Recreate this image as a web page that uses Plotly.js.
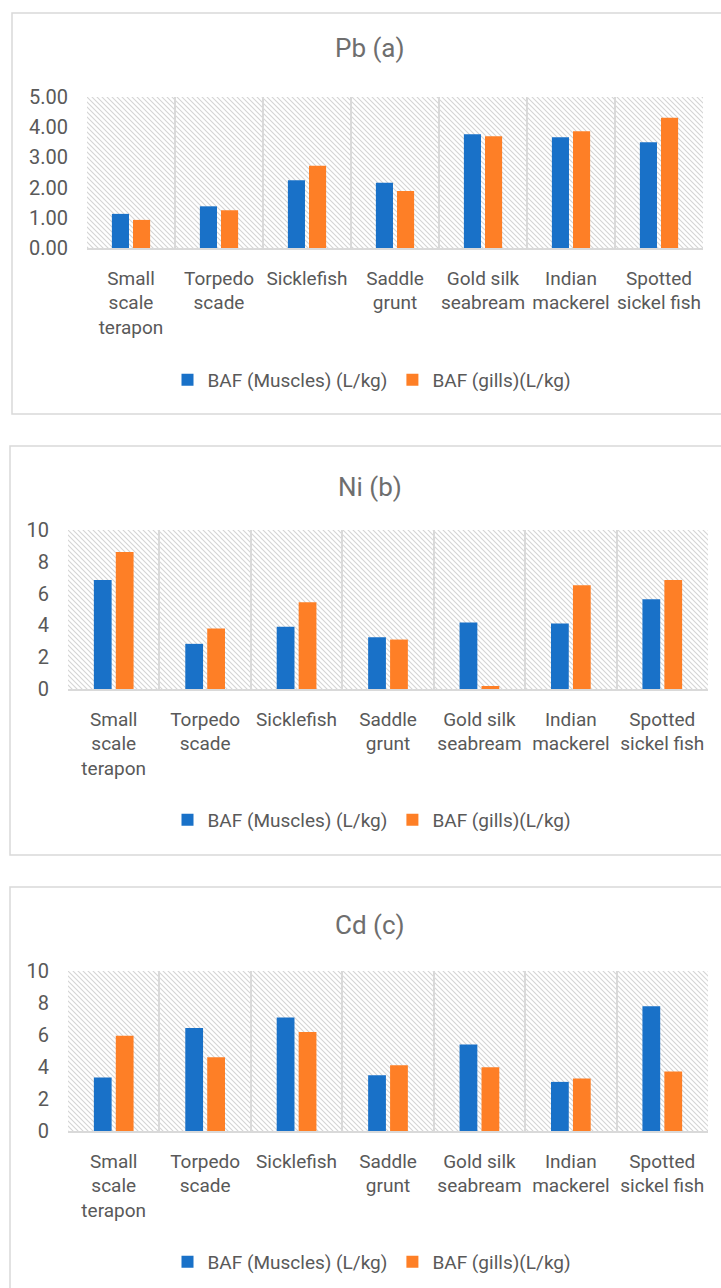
<!DOCTYPE html>
<html>
<head>
<meta charset="utf-8">
<script src="https://cdn.plot.ly/plotly-3.0.1.min.js"></script>
<style>html,body{margin:0;padding:0;background:#fff;}#chart{width:721px;height:1288px;}</style>
</head>
<body>
<div id="chart"></div>
<script>
// ---- data ----
const categories = ["Small<br>scale<br>terapon", "Torpedo<br>scade", "Sicklefish", "Saddle<br>grunt", "Gold silk<br>seabream", "Indian<br>mackerel", "Spotted<br>sickel fish"];
const seriesNames = ["BAF (Muscles) (L/kg)", "BAF (gills)(L/kg)"];
const panelTitles = ["Pb (a)", "Ni (b)", "Cd (c)"];
const pbMuscles = [1.13, 1.38, 2.24, 2.16, 3.77, 3.67, 3.50];
const pbGills   = [0.93, 1.25, 2.72, 1.89, 3.70, 3.87, 4.31];
const niMuscles = [6.85, 2.84, 3.91, 3.26, 4.18, 4.12, 5.65];
const niGills   = [8.61, 3.81, 5.46, 3.11, 0.19, 6.53, 6.85];
const cdMuscles = [3.34, 6.43, 7.10, 3.49, 5.41, 3.07, 7.79];
const cdGills   = [5.95, 4.61, 6.18, 4.11, 3.99, 3.28, 3.72];

// ---- layout geometry (pixels) ----
const W = 721, H = 1288;
const colors = ["#1971C8", "#FE7F26"];
const textGray = "#595959";
const titleGray = "#6E6E6E";
const gridGray = "#D9D9D9";
const FONT = "Roboto, 'Liberation Sans', sans-serif";

const panels = [
  {m: pbMuscles, g: pbGills, range: [0, 5], dtick: 1, fmt: ".2f",
   plot: {x0: 87, x1: 703, y0: 97, y1: 248}, box: {x0: 12, y0: 13, y1: 414}, titleY: 48, legendY: 380},
  {m: niMuscles, g: niGills, range: [0, 10], dtick: 2, fmt: "d",
   plot: {x0: 68, x1: 708, y0: 530, y1: 689}, box: {x0: 10, y0: 446, y1: 855}, titleY: 487, legendY: 820},
  {m: cdMuscles, g: cdGills, range: [0, 10], dtick: 2, fmt: "d",
   plot: {x0: 68, x1: 708, y0: 971, y1: 1131}, box: {x0: 10, y0: 887, y1: 1300}, titleY: 925, legendY: 1262}
];

const px = v => v / W;
const py = v => 1 - v / H;

function hatch(w, h) {
  const s = 5;
  const svg = `<svg xmlns="http://www.w3.org/2000/svg" width="${w}" height="${h}">` +
    `<defs><pattern id="p" width="${s}" height="${s}" patternUnits="userSpaceOnUse">` +
    `<path d="M-1,-1 L${s+1},${s+1} M${s-1},-1 L${s+1},1 M-1,${s-1} L1,${s+1}" stroke="#D4D4D4" stroke-width="1.1"/>` +
    `</pattern></defs><rect width="${w}" height="${h}" fill="#fff"/><rect width="${w}" height="${h}" fill="url(#p)"/></svg>`;
  return "data:image/svg+xml;charset=utf-8," + encodeURIComponent(svg);
}

const traces = [];
const layout = {
  width: W, height: H,
  margin: {l: 0, r: 0, t: 0, b: 0},
  paper_bgcolor: "#fff",
  plot_bgcolor: "rgba(0,0,0,0)",
  barmode: "group",
  bargap: 0.52,
  bargroupgap: 0.19,
  font: {family: FONT, color: textGray, size: 19},
  showlegend: true,
  shapes: [], annotations: [], images: []
};

panels.forEach((p, i) => {
  const n = i === 0 ? "" : String(i + 1);
  const xa = "x" + n, ya = "y" + n;
  const lg = i === 0 ? "legend" : "legend" + (i + 1);
  [p.m, p.g].forEach((vals, k) => {
    traces.push({
      type: "bar", x: categories, y: vals, name: seriesNames[k],
      xaxis: xa, yaxis: ya, legend: lg,
      marker: {color: colors[k], line: {width: 0}},
      hoverinfo: "x+y"
    });
  });
  layout["xaxis" + n] = {
    domain: [px(p.plot.x0), px(p.plot.x1)], anchor: ya,
    type: "category", tickson: "boundaries",
    showgrid: true, gridcolor: gridGray, gridwidth: 1.5,
    showline: true, linecolor: gridGray, linewidth: 1.5,
    ticks: "", tickfont: {size: 19, color: textGray, family: FONT},
    ticklabelstandoff: 12, tickangle: 0, fixedrange: true
  };
  layout["yaxis" + n] = {
    domain: [py(p.plot.y1), py(p.plot.y0)], anchor: xa,
    range: p.range, dtick: p.dtick, tickformat: p.fmt,
    showgrid: false, zeroline: false, showline: false, ticks: "",
    tickfont: {size: 20, color: textGray, family: FONT},
    ticklabelstandoff: 18, fixedrange: true
  };
  layout[lg] = {
    orientation: "h", x: px(372), y: py(p.legendY), xanchor: "center", yanchor: "middle",
    font: {size: 19, color: textGray, family: FONT}, bgcolor: "rgba(0,0,0,0)",
    itemwidth: 30, traceorder: "normal", itemclick: false, itemdoubleclick: false
  };
  layout.annotations.push({
    text: panelTitles[i], xref: "paper", yref: "paper", x: px(370), y: py(p.titleY),
    xanchor: "center", yanchor: "middle", showarrow: false,
    font: {size: 26, color: titleGray, family: FONT}
  });
  layout.shapes.push({
    type: "rect", xref: "paper", yref: "paper", layer: "below",
    x0: px(p.box.x0), x1: px(730), y0: py(p.box.y1), y1: py(p.box.y0),
    line: {color: gridGray, width: 1.5}, fillcolor: "rgba(0,0,0,0)"
  });
  layout.images.push({
    source: hatch(p.plot.x1 - p.plot.x0, p.plot.y1 - p.plot.y0),
    xref: "paper", yref: "paper",
    x: px(p.plot.x0), y: py(p.plot.y0),
    sizex: px(p.plot.x1 - p.plot.x0), sizey: (p.plot.y1 - p.plot.y0) / H,
    xanchor: "left", yanchor: "top", sizing: "stretch", layer: "below"
  });
});

Plotly.newPlot("chart", traces, layout, {displayModeBar: false, staticPlot: false});
</script>
</body>
</html>
